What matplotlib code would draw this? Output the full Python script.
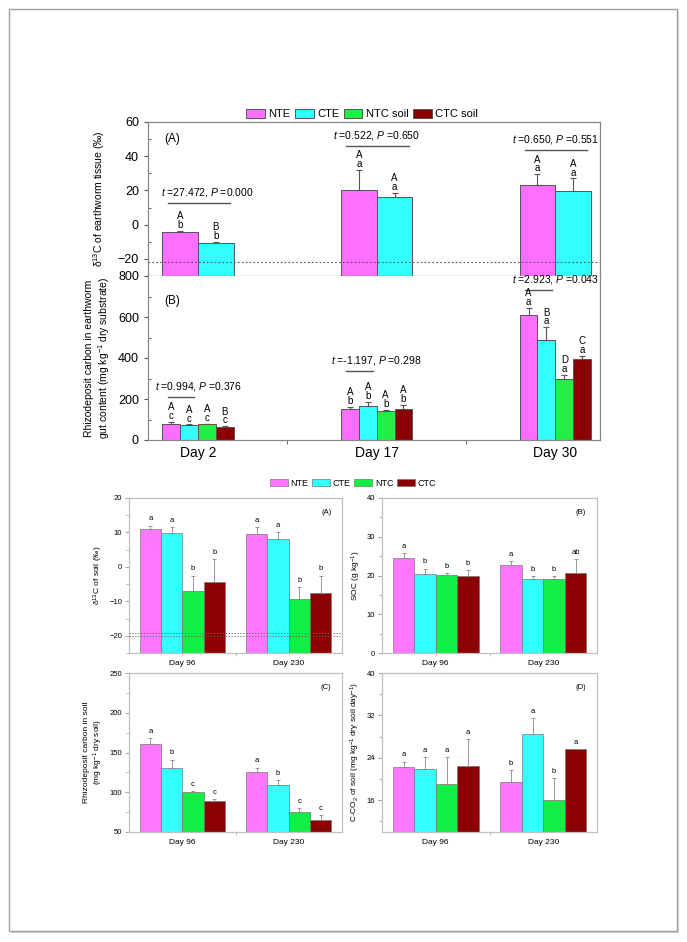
import matplotlib
matplotlib.use('Agg')
import matplotlib.pyplot as plt
import numpy as np
from matplotlib.patches import Rectangle, Patch

plt.rcParams['font.family'] = ['Liberation Sans', 'DejaVu Sans']
plt.rcParams['mathtext.fontset'] = 'custom'
plt.rcParams['mathtext.rm'] = 'Liberation Sans'
plt.rcParams['mathtext.it'] = 'Liberation Sans:italic'

# ---- top figure data (earthworm) ----
days_top = ['Day 2', 'Day 17', 'Day 30']
top_series = ['NTE', 'CTE', 'NTC soil', 'CTC soil']

tissue_nte = [-4.0, 20.0, 23.0]
tissue_nte_err = [0.3, 12.0, 6.5]
tissue_cte = [-10.5, 16.0, 19.5]
tissue_cte_err = [0.4, 2.5, 7.5]
tissue_upper = [['A', 'B'], ['A', 'A'], ['A', 'A']]
tissue_lower = [['b', 'b'], ['a', 'a'], ['a', 'a']]
tissue_t = ['27.472', '0.522', '0.650']
tissue_p = ['0.000', '0.650', '0.551']

gut_nte = [80, 152, 610]
gut_nte_err = [8, 11, 35]
gut_cte = [73, 168, 490]
gut_cte_err = [3, 17, 60]
gut_ntc = [76, 142, 298]
gut_ntc_err = [4, 5, 20]
gut_ctc = [61, 153, 395]
gut_ctc_err = [6, 19, 17]
gut_upper = [['A', 'A', 'A', 'B'], ['A', 'A', 'A', 'A'], ['A', 'B', 'D', 'C']]
gut_lower = [['c', 'c', 'c', 'c'], ['b', 'b', 'b', 'b'], ['a', 'a', 'a', 'a']]
gut_t = ['0.994', '-1.197', '2.923']
gut_p = ['0.376', '0.298', '0.043']

# ---- bottom figure data (soil) ----
days_bot = ['Day 96', 'Day 230']
bot_series = ['NTE', 'CTE', 'NTC', 'CTC']

d13c_vals = [[11.0, 9.5], [9.8, 8.0], [-7.0, -9.3], [-4.3, -7.6]]
d13c_errs = [[1.0, 2.0], [1.7, 2.2], [4.5, 3.5], [6.5, 5.1]]
d13c_letters = [['a', 'a', 'b', 'b'], ['a', 'a', 'b', 'b']]

soc_vals = [[24.4, 22.8], [20.3, 19.0], [20.1, 19.0], [20.0, 20.7]]
soc_errs = [[1.3, 0.9], [1.5, 0.9], [0.5, 0.9], [1.4, 3.5]]
soc_letters = [['a', 'b', 'b', 'b'], ['a', 'b', 'b', 'ab']]

rhizo_vals = [[161, 125], [131, 109], [100, 75], [88.5, 65.5]]
rhizo_errs = [[7, 6], [10, 6], [1.5, 5], [2.5, 5.5]]
rhizo_letters = [['a', 'b', 'c', 'c'], ['a', 'b', 'c', 'c']]

co2_vals = [[22.3, 19.4], [21.8, 28.5], [19.0, 16.1], [22.4, 25.7]]
co2_errs = [[1.0, 2.3], [2.3, 3.0], [5.2, 4.0], [5.1, 0.0]]
co2_letters = [['a', 'a', 'a', 'a'], ['b', 'a', 'b', 'a']]

top_colors = ['#FF6EFF', '#33FFFF', '#22EE44', '#8B0000']
bot_colors = ['#FF77FF', '#33FFFF', '#11EE44', '#8B0000']

fig = plt.figure(figsize=(6.87, 9.42), dpi=100)

# outer frame with shadow
fig.patches.append(Rectangle((11/687, 1-933/942), 668/687, 922/942, transform=fig.transFigure,
                             facecolor='#D8D8D8', edgecolor='none', zorder=-3))
fig.patches.append(Rectangle((9/687, 1-931/942), 668/687, 922/942, transform=fig.transFigure,
                             facecolor='white', edgecolor='#A0A0A0', lw=1.0, zorder=-2))


def style_axes(ax, spine_col, lab_size, tick_col):
    for s in ax.spines.values():
        s.set_color(spine_col)
        s.set_linewidth(0.9)
    ax.tick_params(axis='both', colors=tick_col, labelcolor='black', labelsize=lab_size,
                   length=3, width=0.8)


def ttest_label(t, p):
    return r'$\it{t}$ =' + t + r', $\it{P}$ =' + p


# ---------------- top panel A ----------------
axA = fig.add_axes([148/687, 1-276/942, 452/687, 154/942])
x = np.arange(len(days_top))
ybot = -30
w = 0.2
tis_vals = [tissue_nte, tissue_cte]
tis_errs = [tissue_nte_err, tissue_cte_err]
for k in range(2):
    xs = x + (k - 0.5) * w
    v = np.array(tis_vals[k])
    axA.bar(xs, v - ybot, w, bottom=ybot, color=top_colors[k], edgecolor='#555555', lw=0.7, zorder=2)
    axA.errorbar(xs, v, yerr=[np.zeros(3), tis_errs[k]], fmt='none', ecolor='#555555',
                 elinewidth=0.8, capsize=2.5, capthick=0.8, zorder=3)
    for i in range(3):
        axA.text(xs[i], v[i] + tis_errs[k][i] + 0.5, tissue_upper[i][k] + '\n' + tissue_lower[i][k],
                 ha='center', va='bottom', fontsize=7, linespacing=0.85)
for i in range(3):
    top = max(tis_vals[0][i] + tis_errs[0][i], tis_vals[1][i] + tis_errs[1][i])
    ly = max(top + 14, 12.4)
    axA.plot([x[i] - 0.17, x[i] + 0.18], [ly, ly], color='#555555', lw=1.0)
    axA.text(x[i] + (0.05 if i == 0 else 0), ly + 2.5, ttest_label(tissue_t[i], tissue_p[i]),
             ha='center', va='bottom', fontsize=7.5)
axA.axhline(-22, color='#555555', lw=0.8, ls=(0, (1.5, 2)), zorder=4)
axA.set_xlim(-0.28, 2.25)
axA.set_ylim(-30, 60)
axA.set_yticks([-20, 0, 20, 40, 60])
axA.set_yticks(np.arange(-30, 61, 10), minor=True)
axA.set_xticks([])
axA.text(0.035, 0.87, '(A)', transform=axA.transAxes, fontsize=8.5)
axA.set_ylabel('δ$^{13}$C of earthworm tissue (‰)', fontsize=7.5, labelpad=8)
style_axes(axA, '#888888', 9, '#555555')
axA.tick_params(axis='y', which='minor', length=2, direction='in', colors='#555555')

# ---------------- top panel B ----------------
axB = fig.add_axes([148/687, 1-440/942, 452/687, 164/942])
w = 0.1
gvals = [gut_nte, gut_cte, gut_ntc, gut_ctc]
gerrs = [gut_nte_err, gut_cte_err, gut_ntc_err, gut_ctc_err]
for k in range(4):
    xs = x + (k - 1.5) * w
    v = np.array(gvals[k])
    axB.bar(xs, v, w, color=top_colors[k], edgecolor='#555555', lw=0.7, zorder=2)
    axB.errorbar(xs, v, yerr=[np.zeros(3), gerrs[k]], fmt='none', ecolor='#555555',
                 elinewidth=0.8, capsize=2, capthick=0.8, zorder=3)
    for i in range(3):
        axB.text(xs[i], v[i] + gerrs[k][i] + 4, gut_upper[i][k] + '\n' + gut_lower[i][k],
                 ha='center', va='bottom', fontsize=7, linespacing=0.85)
gut_line_y = [210, 336, 732]
for i in range(3):
    axB.plot([x[i] - 0.17, x[i] - 0.02], [gut_line_y[i], gut_line_y[i]], color='#555555', lw=1.0)
    axB.text(x[i], gut_line_y[i] + 18, ttest_label(gut_t[i], gut_p[i]),
             ha='center', va='bottom', fontsize=7.5)
axB.set_xlim(-0.28, 2.25)
axB.set_ylim(0, 800)
axB.set_yticks([0, 200, 400, 600, 800])
axB.set_yticks(np.arange(0, 801, 100), minor=True)
axB.set_xticks(x)
axB.set_xticklabels(days_top, fontsize=10)
axB.set_xticks([0.5, 1.5], minor=True)
axB.text(0.035, 0.83, '(B)', transform=axB.transAxes, fontsize=8.5)
axB.set_ylabel('Rhizodeposit carbon in earthworm\ngut content (mg kg$^{-1}$ dry substrate)',
               fontsize=7.5, labelpad=4)
style_axes(axB, '#888888', 9, '#555555')
axB.tick_params(axis='x', which='major', length=0, labelsize=10, pad=4)
axB.tick_params(axis='y', which='minor', length=2, direction='in', colors='#555555')
axB.tick_params(axis='x', which='minor', length=3, colors='#555555')
axB.spines['top'].set_visible(False)

fig.legend(handles=[Patch(facecolor=top_colors[k], edgecolor='#555555', lw=0.7, label=top_series[k])
                    for k in range(4)],
           loc='center', bbox_to_anchor=(362/687, 1-114/942), ncol=4, frameon=False,
           fontsize=8, handlelength=1.7, handleheight=0.9, handletextpad=0.3, columnspacing=0.4)

# ---------------- bottom panels ----------------
xb = np.arange(len(days_bot))
wb = 0.2


def soil_panel(rect, vals, errs, letters, ylim, yticks, minor, label, ylabel, hlines=None):
    ax = fig.add_axes(rect)
    b = ylim[0]
    for k in range(4):
        xs = xb + (k - 1.5) * wb
        v = np.array(vals[k])
        ax.bar(xs, v - b, wb, bottom=b, color=bot_colors[k], edgecolor='#777777', lw=0.5, zorder=2)
        ax.errorbar(xs, v, yerr=[np.zeros(2), errs[k]], fmt='none', ecolor='#888888',
                    elinewidth=0.6, capsize=1.5, capthick=0.6, zorder=3)
        span = ylim[1] - ylim[0]
        for i in range(2):
            ax.text(xs[i], v[i] + errs[k][i] + 0.02 * span, letters[i][k],
                    ha='center', va='bottom', fontsize=5.5)
    if hlines:
        for h in hlines:
            ax.axhline(h, color='#666666', lw=0.7, ls=(0, (1.2, 1.8)), zorder=4)
    ax.set_xlim(-0.5, 1.5)
    ax.set_ylim(*ylim)
    ax.set_yticks(yticks)
    ax.set_yticks(minor, minor=True)
    ax.set_xticks(xb)
    ax.set_xticklabels(days_bot)
    ax.set_xticks([0.5], minor=True)
    ax.text(0.95, 0.9, label, transform=ax.transAxes, fontsize=5.5, ha='right')
    ax.set_ylabel(ylabel, fontsize=6, labelpad=3)
    style_axes(ax, '#C0C0C0', 5.5, '#AAAAAA')
    ax.tick_params(axis='x', which='major', length=0, labelsize=6, pad=5)
    ax.tick_params(axis='both', which='minor', length=2, colors='#AAAAAA')
    ax.tick_params(axis='y', which='major', length=3, pad=2)
    return ax


soil_panel([129/687, 1-653/942, 213/687, 155/942], d13c_vals, d13c_errs, d13c_letters,
           (-25, 20), [-20, -10, 0, 10, 20], np.arange(-25, 21, 5), '(A)',
           'δ$^{13}$C of soil (‰)', hlines=[-19.3, -20.0])
soil_panel([382/687, 1-653/942, 215/687, 155/942], soc_vals, soc_errs, soc_letters,
           (0, 40), [0, 10, 20, 30, 40], np.arange(0, 41, 5), '(B)',
           'SOC (g kg$^{-1}$)')
soil_panel([129/687, 1-832/942, 213/687, 159/942], rhizo_vals, rhizo_errs, rhizo_letters,
           (50, 250), [50, 100, 150, 200, 250], np.arange(50, 251, 25), '(C)',
           'Rhizodeposit carbon in soil\n(mg kg$^{-1}$ dry soil)')
soil_panel([382/687, 1-832/942, 215/687, 159/942], co2_vals, co2_errs, co2_letters,
           (10, 40), [16, 24, 32, 40], np.arange(12, 41, 4), '(D)',
           'C-CO$_2$ of soil (mg kg$^{-1}$ dry soil day$^{-1}$)')

fig.legend(handles=[Patch(facecolor=bot_colors[k], edgecolor='#777777', lw=0.5, label=bot_series[k])
                    for k in range(4)],
           loc='center', bbox_to_anchor=(353/687, 1-483/942), ncol=4, frameon=False,
           fontsize=6.5, handlelength=2.0, handleheight=0.9, handletextpad=0.3, columnspacing=0.4)

fig.savefig('out.png', dpi=100)
